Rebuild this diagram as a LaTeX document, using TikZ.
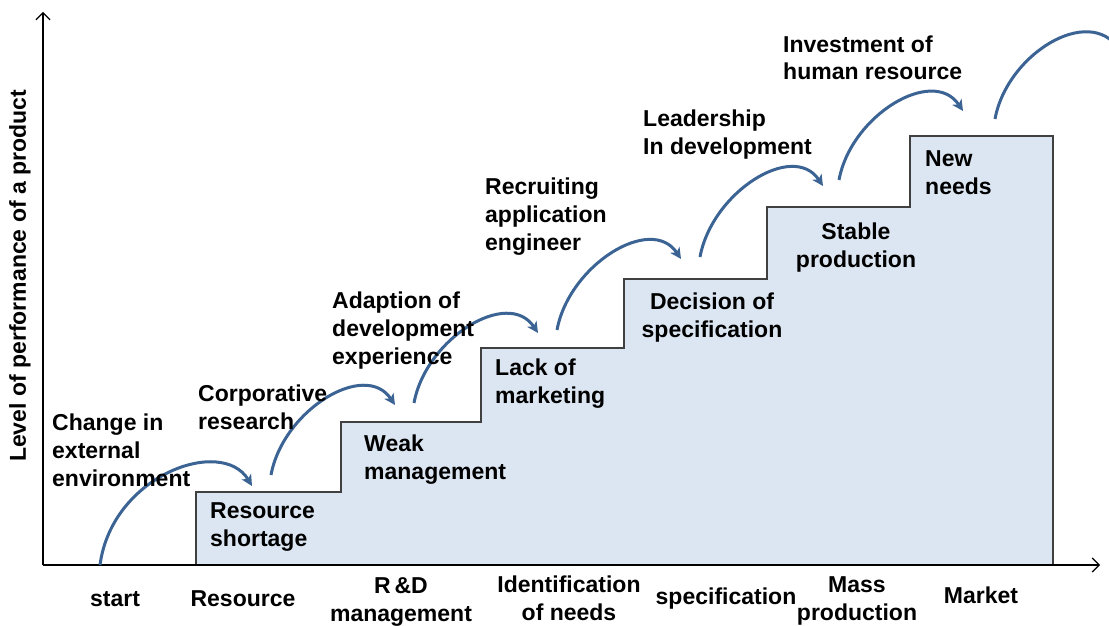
\documentclass[tikz,border=0pt]{standalone}
\usepackage{fontspec}
\setmainfont{Liberation Sans}
\usetikzlibrary{arrows.meta}
\definecolor{stepfill}{RGB}{220,230,242}
\definecolor{stepline}{RGB}{64,64,64}
\definecolor{arcblue}{RGB}{59,99,148}
\begin{document}
\begin{tikzpicture}[x=1pt,y=-1pt,
  lbl/.style={font=\bfseries\fontsize{23}{28}\selectfont,inner sep=0pt,align=left,anchor=base west},
  clbl/.style={font=\bfseries\fontsize{23}{28}\selectfont,inner sep=0pt,align=center,anchor=base},
  axis/.style={line width=1.2pt,black},
  arc/.style={line width=3pt,arcblue,-{Stealth[length=11pt,width=11pt,inset=3pt]}},
  arcfree/.style={line width=3pt,arcblue}]
\useasboundingbox (0,0) rectangle (1109,626);
% axes
\coordinate (O) at (43,565);
\coordinate (ytop) at (43,12);
\coordinate (xend) at (1100,565);
\draw[axis,-{Straight Barb[length=7pt,width=14pt,line width=1.2pt]}] (O) -- (ytop);
% staircase
\fill[stepfill] (196,565) -- (196,492) -- (341,492) -- (341,422) -- (481,422) -- (481,348)
  -- (624,348) -- (624,279) -- (767,279) -- (767,207) -- (910,207) -- (910,136)
  -- (1053,136) -- (1053,565) -- cycle;
\draw[stepline,line width=1.3pt] (196,565) -- (196,492) -- (341,492) -- (341,422) -- (481,422) -- (481,348)
  -- (624,348) -- (624,279) -- (767,279) -- (767,207) -- (910,207) -- (910,136)
  -- (1053,136) -- (1053,565);
\draw[axis,-{Straight Barb[length=7pt,width=14pt,line width=1.2pt]}] (O) -- (xend);
% y label
\node[font=\bfseries\fontsize{23}{28}\selectfont,rotate=90,inner sep=0pt] (ylab) at (20,276) {Level of performance of a product};
% curve anchors
\coordinate (s1) at (100,565); \coordinate (e1) at (252,486);
\coordinate (s2) at (271,475); \coordinate (e2) at (395,405);
\coordinate (s3) at (414,403); \coordinate (e3) at (538,333);
\coordinate (s4) at (557,330); \coordinate (e4) at (681,259);
\coordinate (s5) at (700,257); \coordinate (e5) at (823,186);
\coordinate (s6) at (839,180); \coordinate (e6) at (963,111);
\coordinate (s7) at (995,119); \coordinate (e7) at (1119,49);
\draw[arc] (s1) .. controls (112,475) and (222,436) .. (e1);
\draw[arc] (s2) .. controls +(12,-65) and +(-30,-45) .. (e2);
\draw[arc] (s3) .. controls +(12,-65) and +(-30,-45) .. (e3);
\draw[arc] (s4) .. controls +(12,-65) and +(-30,-45) .. (e4);
\draw[arc] (s5) .. controls +(12,-65) and +(-30,-45) .. (e5);
\draw[arc] (s6) .. controls +(12,-65) and +(-30,-45) .. (e6);
\begin{scope}
\clip (0,0) rectangle (1109,626);
\draw[arcfree] (s7) .. controls +(12,-65) and +(-30,-45) .. (e7);
\end{scope}
% labels above curves
\node[lbl] (t1) at (52,486) {Change in\\external\\environment};
\node[lbl] (t2) at (198,429) {Corporative\\research};
\node[lbl] (t3) at (332,364) {Adaption of\\development\\experience};
\node[lbl] (t4) at (485,250) {Recruiting\\application\\engineer};
\node[lbl] (t5) at (643,154) {Leadership\\In development};
\node[lbl] (t6) at (783,80) {Investment of\\human resource};
% step labels
\node[lbl] (p1) at (210,546) {Resource\\shortage};
\node[lbl] (p2) at (364,479) {Weak\\management};
\node[lbl] (p3) at (495,403) {Lack of\\marketing};
\node[clbl] (p4) at (712,337) {Decision of\\specification};
\node[clbl] (p5) at (856,267) {Stable\\production};
\node[lbl] (p6) at (925,194) {New\\needs};
% x labels
\node[clbl] (x1) at (115,606) {start};
\node[clbl] (x2) at (243,606) {Resource};
\node[clbl] (x3) at (401,621) {R\,\&D\\management};
\node[clbl] (x4) at (569,620) {Identification\\of needs};
\node[clbl] (x5) at (726,604) {specification};
\node[clbl] (x6) at (857,620) {Mass\\production};
\node[clbl] (x7) at (981,603) {Market};
\end{tikzpicture}
\end{document}
